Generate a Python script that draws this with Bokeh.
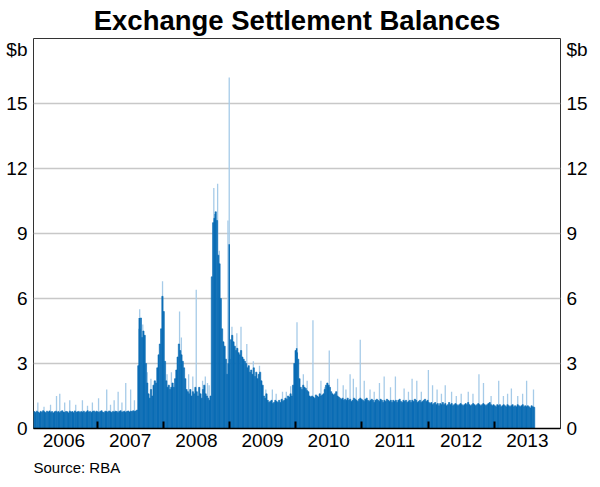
import pandas as pd
from bokeh.plotting import figure
from bokeh.models import (FixedTicker, LinearAxis, Range1d, Title,
                          CustomJSTickFormatter, DatetimeTickFormatter, ColumnDataSource)
from bokeh.embed import file_html
from bokeh.resources import INLINE

# ---- data: weekly Exchange Settlement balances ($b), weeks starting 2006-01-16 ----
week_start = "2006-01-16"
esa_2006 = [0.78, 0.74, 0.80, 0.76, 0.72, 0.79, 0.75, 0.82, 0.77, 0.73, 0.80,
            0.76, 0.81, 0.74, 0.78, 0.72, 0.77, 0.80, 0.75, 0.79, 0.73, 0.78, 0.82, 0.76,
            0.74, 0.79, 0.77, 0.72, 0.80, 0.76, 0.78, 0.73, 0.81, 0.75, 0.77, 0.79, 0.74,
            0.78, 0.75, 0.80, 0.73, 0.77, 0.82, 0.76, 0.79, 0.74, 0.78, 0.81, 0.75, 0.80]
esa_2007 = [0.77, 0.74, 0.79, 0.82, 0.76, 0.73, 0.80, 0.78, 0.75, 0.81, 0.77, 0.74, 0.79,
            0.76, 0.80, 0.78, 0.73, 0.79, 0.82, 0.75, 0.77, 0.80, 0.74, 0.78, 0.81, 0.76,
            0.80, 0.78, 0.82, 0.79, 0.81, 0.85, 2.9, 4.6, 5.1, 4.2, 4.5, 4.3, 3.0,
            2.1, 1.6, 1.4, 1.8, 1.5, 2.0, 2.2, 2.1, 2.8, 3.4, 3.9, 4.6, 6.1]
esa_2008 = [5.4, 3.1, 2.2, 1.9, 2.0, 1.8, 1.9, 2.1, 1.9, 2.3, 2.7, 3.3, 3.9,
            3.6, 3.4, 3.1, 2.8, 2.3, 1.8, 1.7, 1.6, 1.8, 1.5, 1.7, 1.6, 1.9,
            1.7, 1.5, 1.9, 1.6, 1.4, 1.8, 2.0, 1.6, 1.5, 1.4, 1.3, 1.5, 7.0,
            9.5, 9.7, 10.0, 9.6, 8.0, 7.6, 6.0, 4.6, 4.0, 3.8, 3.2, 2.5, 3.0]
esa_2009 = [3.2, 4.1, 4.3, 4.0, 3.8, 3.6, 3.7, 3.5, 3.4, 3.6, 3.3, 3.2, 3.1,
            3.0, 2.8, 2.9, 2.6, 2.7, 2.5, 2.8, 2.4, 2.6, 2.3, 2.5, 2.6, 2.2,
            2.0, 1.5, 1.4, 1.6, 1.3, 1.2, 1.25, 1.3, 1.15, 1.2, 1.3, 1.25, 1.2,
            1.3, 1.2, 1.35, 1.25, 1.3, 1.4, 1.35, 1.5, 1.45, 1.6, 1.5, 2.0, 3.0]
esa_2010 = [3.6, 3.5, 3.2, 2.3, 1.9, 1.8, 2.0, 1.9, 1.85, 1.75, 1.7, 1.5, 1.45,
            1.5, 1.45, 1.4, 1.55, 1.5, 1.45, 1.6, 1.5, 1.55, 1.6, 1.8, 2.0, 2.1,
            2.0, 1.9, 1.7, 1.6, 1.55, 1.6, 1.7, 1.5, 1.45, 1.4, 1.35, 1.4, 1.3,
            1.35, 1.3, 1.4, 1.3, 1.35, 1.25, 1.3, 1.4, 1.35, 1.3, 1.25, 1.35, 1.4]
esa_2011 = [1.35, 1.3, 1.25, 1.35, 1.4, 1.3, 1.25, 1.3, 1.35, 1.3, 1.2, 1.3, 1.35,
            1.3, 1.25, 1.35, 1.3, 1.2, 1.3, 1.25, 1.35, 1.3, 1.25, 1.3, 1.2, 1.3,
            1.25, 1.3, 1.2, 1.3, 1.35, 1.25, 1.2, 1.3, 1.25, 1.3, 1.2, 1.25, 1.3,
            1.2, 1.3, 1.25, 1.35, 1.3, 1.2, 1.25, 1.3, 1.2, 1.25, 1.3, 1.35, 1.25]
esa_2012 = [1.3, 1.2, 1.15, 1.2, 1.1, 1.15, 1.2, 1.1, 1.15, 1.05, 1.15, 1.1, 1.2,
            1.1, 1.15, 1.05, 1.1, 1.2, 1.1, 1.15, 1.05, 1.1, 1.15, 1.1, 1.05, 1.1,
            1.15, 1.1, 1.05, 1.1, 1.15, 1.1, 1.2, 1.1, 1.05, 1.1, 1.15, 1.1, 1.05,
            1.1, 1.15, 1.1, 1.05, 1.1, 1.15, 1.1, 1.05, 1.1, 1.15, 1.2, 1.1, 1.05]
esa_2013 = [1.1, 1.05, 1.0, 1.1, 1.05, 1.1, 1.0, 1.05, 1.1, 1.05, 1.0, 1.1, 1.05,
            1.0, 1.05, 1.1, 1.0, 1.05, 1.0, 1.1, 1.05, 1.0, 1.05, 1.1, 1.0, 1.05,
            1.0, 1.05, 1.0, 0.95, 1.05, 1.0, 0.98]

# ---- daily peaks standing above the weekly level ($b) ----
peak_dates = ["2006-02-08", "2006-03-14", "2006-04-19", "2006-05-22", "2006-06-09",
              "2006-07-06", "2006-08-03", "2006-09-05", "2006-10-12", "2006-11-09",
              "2006-12-06", "2007-01-09", "2007-02-23", "2007-03-16", "2007-04-05",
              "2007-04-27", "2007-05-18", "2007-06-08", "2007-07-05", "2007-07-26",
              "2007-08-24", "2007-09-10", "2007-10-05", "2007-10-25", "2007-12-28",
              "2008-01-22", "2008-02-15", "2008-03-31", "2008-04-10", "2008-05-20",
              "2008-06-12", "2008-07-01", "2008-08-05", "2008-08-20", "2008-09-01",
              "2008-09-10", "2008-10-06", "2008-10-27", "2008-11-05", "2008-12-23",
              "2008-12-30", "2009-01-14", "2009-02-10", "2009-03-05", "2009-04-06",
              "2009-05-12", "2009-06-15", "2009-07-20", "2009-08-25", "2009-09-15",
              "2009-10-20", "2009-11-10", "2009-12-04", "2010-01-08", "2010-02-12",
              "2010-03-05", "2010-04-06", "2010-05-20", "2010-06-10", "2010-07-05",
              "2010-08-20", "2010-09-20", "2010-10-05", "2010-10-28", "2010-11-15",
              "2010-12-01", "2010-12-23", "2011-01-14", "2011-02-15", "2011-03-10",
              "2011-04-08", "2011-05-04", "2011-06-08", "2011-07-05", "2011-08-22",
              "2011-09-15", "2011-10-05", "2011-10-31", "2011-11-25", "2012-01-03",
              "2012-01-26", "2012-02-20", "2012-03-15", "2012-04-05", "2012-05-10",
              "2012-06-05", "2012-07-02", "2012-08-10", "2012-09-05", "2012-10-08",
              "2012-11-02", "2012-12-14", "2013-01-25", "2013-02-20", "2013-03-15",
              "2013-04-05", "2013-05-10", "2013-06-06", "2013-06-28", "2013-08-05"]
peak_values = [1.2, 1.0, 1.1, 1.5, 1.6,
               1.2, 1.3, 1.1, 1.3, 1.05,
               1.2, 1.4, 1.8, 1.1, 1.3,
               1.7, 1.2, 2.1, 1.8, 1.3,
               5.5, 4.8, 2.6, 2.3, 6.8,
               2.5, 2.6, 5.4, 4.2, 2.5,
               2.4, 6.4, 2.2, 2.4, 2.1,
               2.0, 11.1, 11.3, 8.2, 9.6,
               16.2, 4.7, 4.4, 4.7, 3.9,
               3.1, 2.9, 1.8, 1.8, 1.6,
               1.7, 1.7, 1.95, 4.9, 2.5,
               2.2, 5.0, 2.2, 1.9, 3.6,
               2.3, 2.0, 1.8, 2.5, 2.3,
               1.9, 4.1, 2.2, 1.8, 1.7,
               2.1, 2.4, 1.9, 2.4, 1.85,
               1.7, 2.3, 2.2, 1.7, 2.7,
               2.0, 1.8, 1.6, 2.0, 1.7,
               1.5, 1.6, 1.7, 1.6, 2.5,
               2.1, 1.5, 2.2, 1.5, 1.6,
               1.85, 1.5, 1.6, 2.2, 1.8]
dark_peak_dates = ["2007-08-22", "2008-10-14", "2008-12-30", "2010-01-06"]
dark_peak_values = [5.1, 9.9, 8.5, 3.7]

# ---- axis labels ----
year_labels = ["2006", "2007", "2008", "2009", "2010", "2011", "2012", "2013"]
y_ticks = [0, 3, 6, 9, 12, 15]
unit_label = "$b"

DARK = "#0b6db5"
LIGHT = "#a6cbe8"
FONT = "Liberation Sans"

values = esa_2006 + esa_2007 + esa_2008 + esa_2009 + esa_2010 + esa_2011 + esa_2012 + esa_2013
weeks = pd.date_range(week_start, periods=len(values), freq="7D")
week_src = ColumnDataSource(dict(x=weeks + pd.Timedelta(days=3.5), top=values))

pk = pd.to_datetime(peak_dates)
dpk = pd.to_datetime(dark_peak_dates)

p = figure(frame_width=527, frame_height=390, x_axis_type="datetime",
           x_range=Range1d(pd.Timestamp("2006-01-15"), pd.Timestamp("2014-01-01")),
           y_range=Range1d(0, 18),
           output_backend="svg", toolbar_location=None,
           min_border_left=33, min_border_right=29, min_border_top=35, min_border_bottom=0)

p.segment(x0=pk, y0=0, x1=pk, y1=peak_values, line_color=LIGHT, line_width=1.3)
p.vbar(x="x", top="top", width=7 * 86400000, source=week_src,
       fill_color=DARK, line_color=DARK, line_width=0.6)
p.segment(x0=dpk, y0=0, x1=dpk, y1=dark_peak_values, line_color=DARK, line_width=1.5)

# title
p.title.text = "Exchange Settlement Balances"
p.title.align = "center"
p.title.text_font = FONT
p.title.text_font_size = "27.5px"
p.title.text_font_style = "bold"
p.title.text_color = "black"
p.title.standoff = 5

p.add_layout(Title(text="Source: RBA", align="left", text_font=FONT,
                   text_font_size="15px", text_font_style="normal",
                   text_color="black", standoff=15), "below")

# frame & grid
p.outline_line_color = "#333333"
p.outline_line_width = 1
p.xgrid.visible = False
p.ygrid.ticker = FixedTicker(ticks=y_ticks[1:])
p.ygrid.grid_line_color = "#c8c8c8"
p.ygrid.grid_line_width = 1.5
p.background_fill_color = "white"
p.border_fill_color = "white"

# x axis: labels at mid-year, tick marks at year boundaries
mid_years = [pd.Timestamp(f"{y}-07-02") for y in year_labels]
year_bounds = [pd.Timestamp(f"{int(y) + 1}-01-01") for y in year_labels[:-1]]
xax = p.xaxis[0]
xax.ticker = FixedTicker(ticks=[t.value // 10**6 for t in mid_years],
                         minor_ticks=[t.value // 10**6 for t in year_bounds])
xax.formatter = DatetimeTickFormatter(years="%Y", months="%Y", days="%Y",
                                      hours="%Y", minutes="%Y", seconds="%Y",
                                      milliseconds="%Y", microseconds="%Y")
xax.major_tick_in = 0
xax.major_tick_out = 0
xax.minor_tick_in = 7
xax.minor_tick_out = 0
xax.minor_tick_line_color = "black"
xax.minor_tick_line_width = 2
xax.axis_line_color = "black"
xax.axis_line_width = 1.5
xax.major_label_text_font = FONT
xax.major_label_text_font_size = "19px"
xax.major_label_text_color = "black"
xax.major_label_standoff = 5

fmt_code = "return tick > 17 ? '%s' : tick.toFixed(0);" % unit_label


def style_y(ax):
    ax.ticker = FixedTicker(ticks=y_ticks + [17.5])
    ax.formatter = CustomJSTickFormatter(code=fmt_code)
    ax.major_tick_in = 0
    ax.major_tick_out = 0
    ax.minor_tick_line_color = None
    ax.axis_line_color = None
    ax.major_label_text_font = FONT
    ax.major_label_text_font_size = "19px"
    ax.major_label_text_color = "black"
    ax.major_label_standoff = 6


style_y(p.yaxis[0])
right = LinearAxis()
style_y(right)
p.add_layout(right, "right")

open("out.html", "w").write(file_html(p, INLINE))
